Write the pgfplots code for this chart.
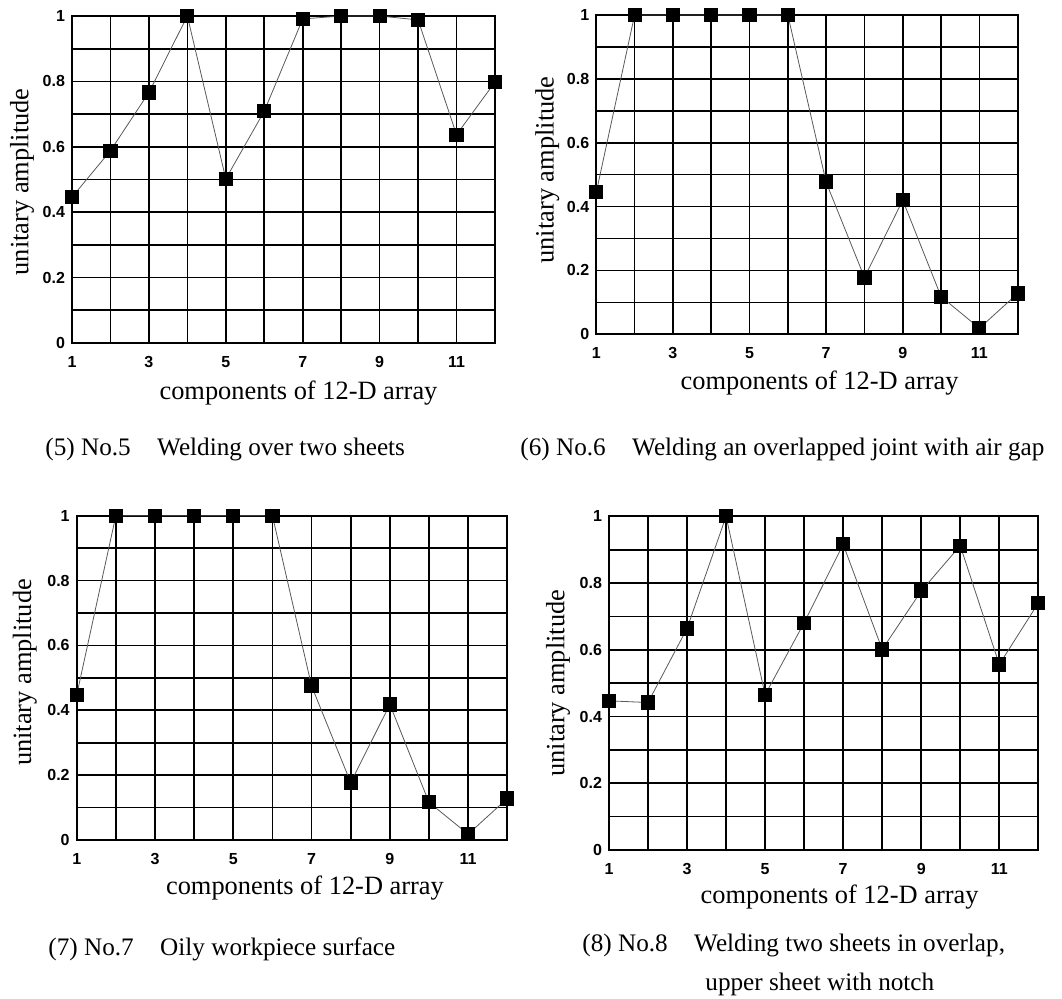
\documentclass[border=0pt]{standalone}
\usepackage{fontspec}
\setmainfont{Liberation Serif}
\newfontfamily\arial{Liberation Sans}
\usepackage{pgfplots}
\pgfplotsset{compat=1.18}

\pgfplotsset{panel/.style={
  scale only axis, clip=false,
  xmin=1, xmax=12, ymin=0, ymax=1,
  xtick={1,2,3,4,5,6,7,8,9,10,11,12},
  xticklabels={1,,3,,5,,7,,9,,11,},
  ytick={0,0.1,0.2,0.3,0.4,0.5,0.6,0.7,0.8,0.9,1},
  yticklabels={0,,0.2,,0.4,,0.6,,0.8,,1},
  grid=major, major grid style={black, line width=0.85pt},
  axis line style={black, line width=0.9pt},
  major tick length=0pt,
  /pgf/number format/assume math mode=true,
  tick label style={font=\arial\bfseries\fontsize{8}{9}\selectfont, text=black},
  xticklabel style={yshift=-3pt},
  label style={font=\fontsize{13.2}{15}\selectfont},
  xlabel={components of 12-D array},
  ylabel={unitary amplitude},
  ylabel style={at={(axis description cs:0,0.5)}, anchor=center},
  xlabel style={at={(axis description cs:0.5,0)}, anchor=center},
}}
\pgfplotsset{series/.style={gray!70!black, line width=0.4pt, mark=square*, mark size=3.3pt,
  mark options={fill=black, draw=black, line width=0pt}}}

\begin{document}
\begin{tikzpicture}
\path[use as bounding box] (0,0) rectangle (531pt,499pt);

% Panel 5
\begin{axis}[panel, at={(36pt,327.5pt)}, anchor=south west, width=211.5pt, height=163.5pt,
  xlabel style={xshift=7.5pt, yshift=-25pt}, ylabel style={yshift=25pt, xshift=-1.2pt}]
\addplot[series] coordinates {(1,0.446) (2,0.588) (3,0.766) (4,1.0) (5,0.502) (6,0.709) (7,0.991) (8,1.0) (9,1.0) (10,0.988) (11,0.637) (12,0.798)};
\end{axis}

% Panel 6
\begin{axis}[panel, at={(298.15pt,331.85pt)}, anchor=south west, width=210.7pt, height=159.65pt,
  xlabel style={xshift=6.3pt, yshift=-24.5pt}, ylabel style={yshift=24.5pt, xshift=2.3pt}]
\addplot[series] coordinates {(1,0.445) (2,1) (3,1) (4,1) (5,1) (6,1) (7,0.476) (8,0.178) (9,0.42) (10,0.118) (11,0.019) (12,0.128)};
\end{axis}

% Panel 7
\begin{axis}[panel, at={(38.35pt,79pt)}, anchor=south west, width=215.3pt, height=162.15pt,
  xlabel style={xshift=6.5pt, yshift=-24pt}, ylabel style={yshift=26pt, xshift=2.7pt}]
\addplot[series] coordinates {(1,0.447) (2,1) (3,1) (4,1) (5,1) (6,1) (7,0.475) (8,0.177) (9,0.418) (10,0.116) (11,0.018) (12,0.128)};
\end{axis}

% Panel 8
\begin{axis}[panel, at={(304.5pt,74pt)}, anchor=south west, width=214.65pt, height=166.85pt,
  xlabel style={xshift=8pt, yshift=-23.5pt}, ylabel style={yshift=25.5pt, xshift=0pt}]
\addplot[series] coordinates {(1,0.447) (2,0.442) (3,0.664) (4,1) (5,0.465) (6,0.681) (7,0.916) (8,0.601) (9,0.776) (10,0.912) (11,0.556) (12,0.740)};
\end{axis}

\begin{scope}[every node/.style={inner sep=0pt, font=\fontsize{12.6}{15}\selectfont}]
\node[anchor=base west] at (22.5pt,271pt) {(5) No.5\hspace{1.05em}Welding over two sheets};
\node[anchor=base west] at (260pt,271pt) {(6) No.6\hspace{1.05em}Welding an overlapped joint with air gap};
\node[anchor=base west] at (24pt,21.5pt) {(7) No.7\hspace{1.05em}Oily workpiece surface};
\node[anchor=base west] at (291pt,23.5pt) {(8) No.8\hspace{1.05em}Welding two sheets in overlap,};
\node[anchor=base west] at (352.5pt,4pt) {upper sheet with notch};
\end{scope}
\end{tikzpicture}
\end{document}
